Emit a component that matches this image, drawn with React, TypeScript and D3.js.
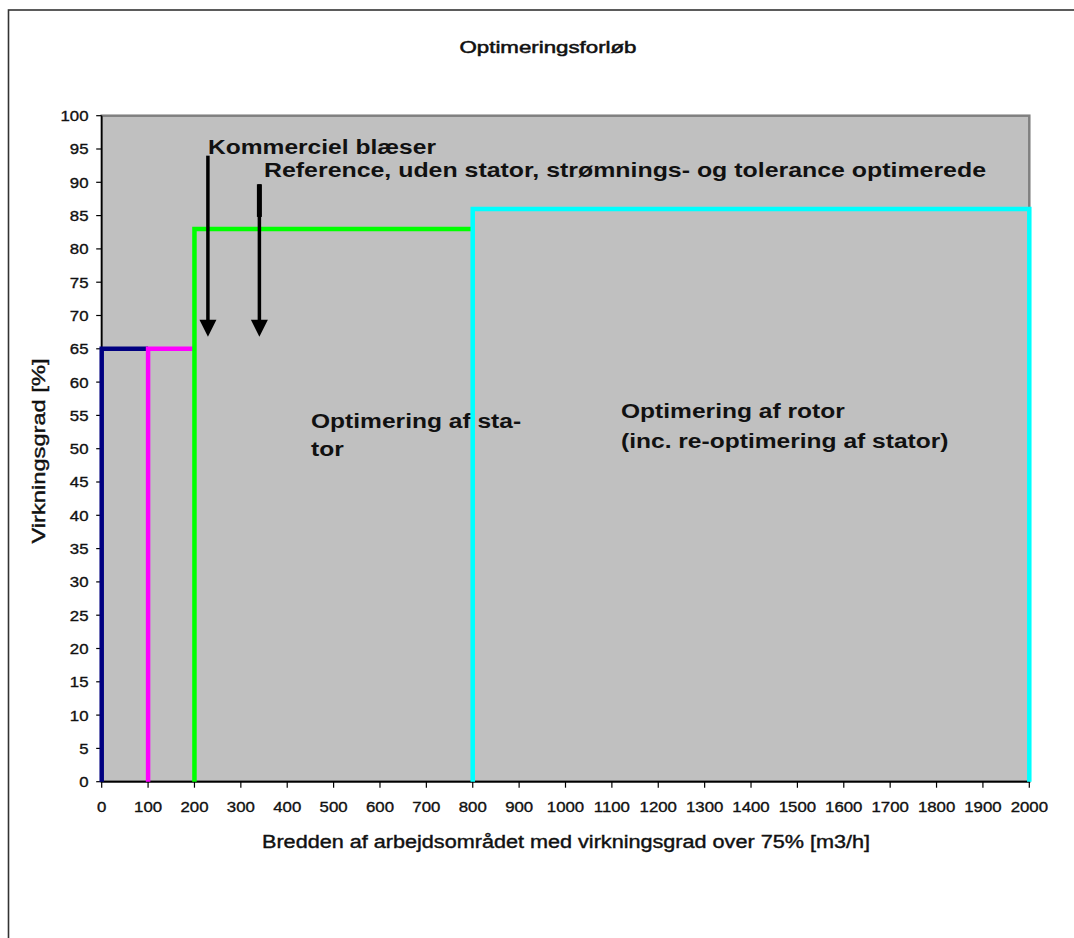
import React from "react";
import * as d3 from "d3";

// Axis ticks
const yTicks: number[] = [0, 5, 10, 15, 20, 25, 30, 35, 40, 45, 50, 55, 60, 65, 70, 75, 80, 85, 90, 95, 100];
const xTicks: number[] = [0, 100, 200, 300, 400, 500, 600, 700, 800, 900, 1000, 1100, 1200, 1300, 1400, 1500, 1600, 1700, 1800, 1900, 2000];

// Step outlines of each optimisation stage: [width m3/h, efficiency %]
const stageCommercial: [number, number][] = [[0, 0], [0, 65], [100, 65]];
const stageReference: [number, number][] = [[100, 0], [100, 65], [200, 65]];
const stageStator: [number, number][] = [[200, 0], [200, 83], [800, 83]];
const stageRotor: [number, number][] = [[800, 0], [800, 86], [2000, 86], [2000, 0]];

const stageColors: string[] = ["#000080", "#ff00ff", "#00ff00", "#00ffff"];

// Pointer arrows: x position, start and tip values
const arrowX: number[] = [229, 340];
const arrowFrom: number[] = [94, 89.7];
const arrowTo: number[] = [66.8, 66.8];
const arrowStubTo: number[] = [94, 84.8];

const FONT = "'Liberation Sans', Arial, Helvetica, sans-serif";

const W = 1074;
const H = 938;
const left = 101.7;
const right = 1029.3;
const top = 115.7;
const bottom = 781.7;

const x = d3.scaleLinear().domain([0, 2000]).range([left, right]);
const y = d3.scaleLinear().domain([0, 100]).range([bottom, top]);

const line = d3
  .line<[number, number]>()
  .x((d) => x(d[0]))
  .y((d) => y(d[1]));

type STextProps = {
  x: number;
  y: number;
  sx?: number;
  size: number;
  weight?: string | number;
  anchor?: "start" | "middle" | "end";
  rotate?: number;
  textLength?: number;
  dy?: string;
  heavy?: number;
  children: React.ReactNode;
};

// Text with a horizontal stretch in its own reading direction
function SText({ x, y, sx = 1, size, weight = "normal", anchor = "start", rotate = 0, textLength, dy, heavy = 0, children }: STextProps) {
  return (
    <g transform={`translate(${x},${y}) rotate(${rotate})`}>
      <text
        transform={textLength ? undefined : `scale(${sx},1)`}
        textAnchor={anchor}
        fontFamily={FONT}
        fontSize={size}
        fontWeight={weight}
        fill="#111"
        stroke={heavy ? "#111" : undefined}
        strokeWidth={heavy || undefined}
        dy={dy}
        textLength={textLength}
        lengthAdjust={textLength ? "spacingAndGlyphs" : undefined}
      >
        {children}
      </text>
    </g>
  );
}

export default function App() {
  const stages = [stageCommercial, stageReference, stageStator, stageRotor];
  const annSize = 21;
  const annSx = 1.17;
  return (
    <svg
      width={W}
      height={H}
      viewBox={`0 0 ${W} ${H}`}
      style={{ position: "absolute", left: 0, top: 0, background: "#fff" }}
    >
      <rect x={0} y={0} width={W} height={H} fill="#fff" />
      {/* outer chart frame */}
      <rect x={8.5} y={10} width={1200} height={1000} fill="none" stroke="#333" strokeWidth={1.6} />

      <SText x={548} y={53} size={16} anchor="middle" textLength={177} heavy={0.5}>
        Optimeringsforløb
      </SText>

      {/* plot area */}
      <rect x={left} y={top} width={right - left} height={bottom - top} fill="#c0c0c0" stroke="#808080" strokeWidth={2.5} />
      <line x1={left} x2={left} y1={top} y2={bottom} stroke="#000" strokeWidth={1.5} />
      <line x1={left} x2={right} y1={bottom} y2={bottom} stroke="#000" strokeWidth={1.8} />

      {/* y axis */}
      {yTicks.map((t) => (
        <g key={`y${t}`}>
          <line x1={left - 5.5} x2={left} y1={y(t)} y2={y(t)} stroke="#000" strokeWidth={1.2} />
          <SText x={88.5} y={y(t)} size={15} sx={1.12} anchor="end" dy="0.36em" heavy={0.35}>
            {t}
          </SText>
        </g>
      ))}
      {/* x axis */}
      {xTicks.map((t) => (
        <g key={`x${t}`}>
          <line x1={x(t)} x2={x(t)} y1={bottom} y2={bottom + 6} stroke="#000" strokeWidth={1.2} />
          <SText x={x(t)} y={812} size={15} sx={1.12} anchor="middle" heavy={0.35}>
            {t}
          </SText>
        </g>
      ))}

      <SText x={45} y={451} size={18} rotate={-90} anchor="middle" textLength={185} heavy={0.4}>
        Virkningsgrad [%]
      </SText>
      <SText x={566} y={847.5} size={18} anchor="middle" textLength={608} heavy={0.4}>
        Bredden af arbejdsområdet med virkningsgrad over 75% [m3/h]
      </SText>

      {/* region annotations */}
      <SText x={208} y={153.5} size={annSize} sx={annSx} weight="bold">
        Kommerciel blæser
      </SText>
      <SText x={264} y={177} size={annSize} weight="bold" textLength={722}>
        Reference, uden stator, strømnings- og tolerance optimerede
      </SText>
      <SText x={311} y={427.5} size={annSize} sx={annSx} weight="bold">
        Optimering af sta-
      </SText>
      <SText x={311} y={456} size={annSize} sx={annSx} weight="bold">
        tor
      </SText>
      <SText x={621} y={418} size={annSize} sx={annSx} weight="bold">
        Optimering af rotor
      </SText>
      <SText x={621} y={448} size={annSize} sx={annSx} weight="bold">
        (inc. re-optimering af stator)
      </SText>

      {/* stage outlines */}
      {stages.map((s, i) => (
        <path
          key={`s${i}`}
          d={line(s) ?? ""}
          fill="none"
          stroke={stageColors[i]}
          strokeWidth={4.5}
          strokeLinejoin="miter"
          strokeLinecap="butt"
        />
      ))}

      {/* arrows */}
      {arrowX.map((ax, i) => {
        const px = x(ax);
        const tip = y(arrowTo[i]);
        const headH = 17;
        const headW = 8.5;
        return (
          <g key={`a${i}`}>
            <line x1={px} x2={px} y1={y(arrowFrom[i])} y2={tip - headH + 1} stroke="#000" strokeWidth={3.5} />
            {arrowStubTo[i] !== arrowFrom[i] && (
              <line x1={px} x2={px} y1={y(arrowFrom[i])} y2={y(arrowStubTo[i])} stroke="#000" strokeWidth={5} />
            )}
            <path d={`M${px - headW},${tip - headH} L${px + headW},${tip - headH} L${px},${tip} Z`} fill="#000" />
          </g>
        );
      })}
    </svg>
  );
}
